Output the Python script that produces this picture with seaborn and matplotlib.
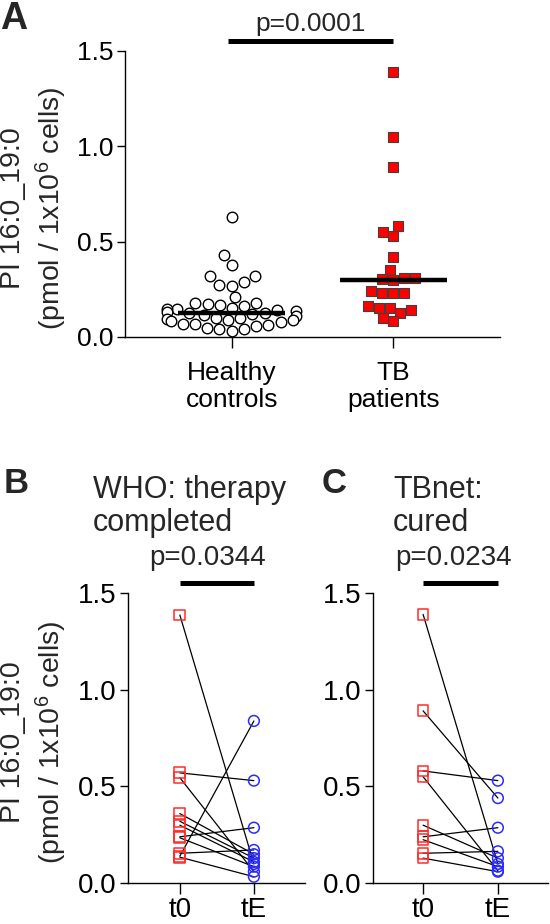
import numpy as np
import pandas as pd

import matplotlib
matplotlib.use("Agg")
import matplotlib.pyplot as plt
import seaborn as sns

# ==================================================
# DATA
# ==================================================

GROUPS = ["Healthy controls", "TB patients"]
GROUP_LABELS = ["Healthy\ncontrols", "TB\npatients"]

healthy = [
    0.63, 0.43, 0.38, 0.32, 0.32, 0.29, 0.275, 0.27, 0.21, 0.18,
    0.18, 0.175, 0.17, 0.165, 0.15, 0.145, 0.145, 0.14, 0.135, 0.13,
    0.125, 0.125, 0.12, 0.115, 0.11, 0.10, 0.10, 0.095, 0.09, 0.09,
    0.085, 0.08, 0.07, 0.07, 0.065, 0.06, 0.045, 0.04, 0.04, 0.03
]

tb_patients = [
    1.388, 1.049, 0.89, 0.58, 0.551, 0.53, 0.42, 0.353, 0.31, 0.31,
    0.304, 0.30, 0.24, 0.23, 0.23, 0.23, 0.164, 0.152, 0.152, 0.14,
    0.126, 0.10, 0.082
]

TIME_LABELS = ["t0", "tE"]

who_t0 = [1.385, 0.57, 0.545, 0.36, 0.32, 0.30, 0.24, 0.235, 0.155, 0.14, 0.135]
who_tE = [0.10, 0.53, 0.06, 0.15, 0.13, 0.11, 0.287, 0.086, 0.172, 0.838, 0.034]

tbnet_t0 = [1.388, 0.89, 0.58, 0.55, 0.30, 0.24, 0.225, 0.155, 0.13]
tbnet_tE = [0.10, 0.44, 0.53, 0.065, 0.13, 0.287, 0.086, 0.165, 0.06]

P_A = "p=0.0001"
P_B = "p=0.0344"
P_C = "p=0.0234"

# ==================================================
# STYLE
# ==================================================

sns.set_style("ticks")
plt.rcParams["font.family"] = ["Liberation Sans", "DejaVu Sans"]
plt.rcParams["mathtext.fontset"] = "custom"
plt.rcParams["mathtext.rm"] = "Liberation Sans"
plt.rcParams["mathtext.it"] = "Liberation Sans"

FS_A = 19
FS_B = 20
FS_YLAB = 20.5
FS_TITLE = 22
RED = "#ff2b2b"
BLUE = "#2b2bff"

W, H = 550, 924


def fx(px):
    return px / W


def fy(py):
    return 1 - py / H


fig = plt.figure(figsize=(5.5, 9.24), dpi=100)


def style_axis(ax, xlim, ticklabels, fs, xpad):
    ax.set_xlim(*xlim)
    ax.set_ylim(0, 1.5)
    ax.set_yticks([0, 0.5, 1.0, 1.5])
    ax.set_yticklabels(["0.0", "0.5", "1.0", "1.5"])
    ax.set_xticks(range(len(ticklabels)))
    ax.set_xticklabels(ticklabels)
    ax.set_xlabel("")
    ax.set_ylabel("")
    sns.despine(ax=ax)
    for sp in ["left", "bottom"]:
        ax.spines[sp].set_linewidth(1.0)
        ax.spines[sp].set_color("black")
    ax.tick_params(
        labelsize=fs, length=6, width=1.0,
        colors="black", pad=2
    )
    ax.tick_params(axis="x", length=8, pad=xpad)


def ylabel(y_center):
    fig.text(fx(0), fy(y_center), "PI 16:0_19:0",
             rotation=90, ha="left", va="center", fontsize=FS_YLAB)
    fig.text(fx(51), fy(y_center), "(pmol / 1x10$^{6}$ cells)",
             rotation=90, ha="center", va="center", fontsize=FS_YLAB)


# ==================================================
# PANEL A
# ==================================================

axA = fig.add_axes([fx(125), fy(337), fx(375), 286 / H])

df_h = pd.DataFrame({"group": GROUPS[0], "value": healthy})
df_t = pd.DataFrame({"group": GROUPS[1], "value": tb_patients})

sns.swarmplot(
    data=df_h, x="group", y="value", order=GROUPS,
    color="white", edgecolor="black", linewidth=1.0,
    size=7.6, marker="o", ax=axA
)

sns.swarmplot(
    data=df_t, x="group", y="value", order=GROUPS,
    color="#ff0000", edgecolor="#404040", linewidth=0.8,
    size=6.8, marker="s", ax=axA
)

for i, vals in enumerate([healthy, tb_patients]):
    med = np.median(vals)
    axA.plot([i - 0.33, i + 0.33], [med, med],
             color="black", lw=3.2, zorder=5,
             solid_capstyle="butt")

style_axis(axA, (-0.66, 1.66), GROUP_LABELS, FS_A, 9)

axA.plot([-0.02, 1.0], [1.552, 1.552], color="black", lw=3.6,
         clip_on=False, solid_capstyle="butt")
axA.text(0.49, 1.606, P_A, ha="center", va="baseline", fontsize=FS_A)

fig.text(fx(0), fy(29), "A", fontsize=27, fontweight="bold",
         ha="left", va="baseline")
ylabel(208)

# ==================================================
# PANELS B / C
# ==================================================


def paired_panel(rect, t0, tE, pval, px_center, xlim):
    ax = fig.add_axes(rect)
    n = len(t0)
    df = pd.DataFrame({
        "pair": list(range(n)) * 2,
        "t": [0] * n + [1] * n,
        "value": list(t0) + list(tE)
    })
    sns.lineplot(
        data=df, x="t", y="value", units="pair",
        estimator=None, color="black", lw=0.9,
        ax=ax, legend=False
    )
    sns.scatterplot(
        data=df[df.t == 0], x="t", y="value",
        marker="s", s=60, facecolors="none",
        edgecolor=RED, linewidth=1.1, ax=ax, zorder=4
    )
    sns.scatterplot(
        data=df[df.t == 1], x="t", y="value",
        marker="o", s=60, facecolors="none",
        edgecolor=BLUE, linewidth=1.1, ax=ax, zorder=4
    )
    style_axis(ax, xlim, TIME_LABELS, FS_B, 2)
    ax.plot([0, 1], [1.55, 1.55], color="black", lw=3.6,
            clip_on=False, solid_capstyle="butt")
    ax.text(px_center, 1.644, pval, ha="center", va="baseline",
            fontsize=FS_B)
    return ax


ROW_B = [fy(883.3), 290.6 / H]

axB = paired_panel(
    [fx(128), ROW_B[0], fx(177), ROW_B[1]],
    who_t0, who_tE, P_B, 0.38, (-0.70, 1.69)
)

axC = paired_panel(
    [fx(373), ROW_B[0], fx(175), ROW_B[1]],
    tbnet_t0, tbnet_tE, P_C, 0.41, (-0.67, 1.67)
)

fig.text(fx(4), fy(493), "B", fontsize=25, fontweight="bold",
         ha="left", va="baseline")
fig.text(fx(93), fy(498), "WHO: therapy", fontsize=FS_TITLE,
         ha="left", va="baseline")
fig.text(fx(93), fy(531), "completed", fontsize=FS_TITLE,
         ha="left", va="baseline")

fig.text(fx(322), fy(493), "C", fontsize=25, fontweight="bold",
         ha="left", va="baseline")
fig.text(fx(393), fy(498), "TBnet:", fontsize=FS_TITLE,
         ha="left", va="baseline")
fig.text(fx(393), fy(531), "cured", fontsize=FS_TITLE,
         ha="left", va="baseline")

ylabel(742)

fig.savefig("out.png", dpi=100)
